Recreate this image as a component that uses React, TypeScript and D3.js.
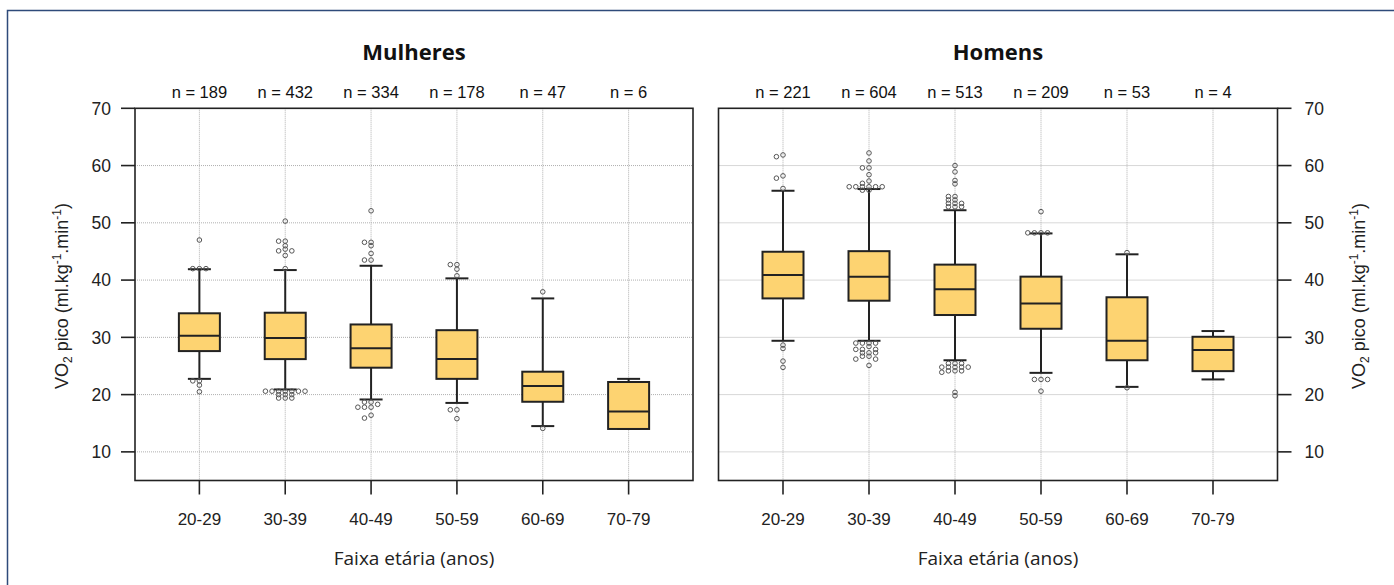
import React from "react";
import * as d3 from "d3";

// ---------- DATA ----------
const categories = ["20-29", "30-39", "40-49", "50-59", "60-69", "70-79"];
const yTicks = [10, 20, 30, 40, 50, 60, 70];

const womenN = [189, 432, 334, 178, 47, 6];
const womenQ1 = [27.6, 26.2, 24.7, 22.75, 18.75, 14.0];
const womenMedian = [30.3, 29.9, 28.1, 26.2, 21.5, 17.05];
const womenQ3 = [34.2, 34.3, 32.25, 31.25, 24.0, 22.2];
const womenLow = [22.75, 20.9, 19.15, 18.55, 14.5, 14.0];
const womenHigh = [41.9, 41.75, 42.5, 40.3, 36.8, 22.75];
const womenOutliers = [
  [47.0, 42.0, 42.0, 42.0, 22.4, 22.4, 21.65, 20.5],
  [50.3, 46.8, 46.8, 46.0, 45.4, 45.1, 45.1, 44.3, 42.0,
   20.6, 20.6, 20.6, 20.6, 20.6, 20.6, 20.6, 20.0, 20.0, 20.0, 19.4, 19.4, 19.4],
  [52.1, 46.6, 46.6, 46.0, 44.65, 43.5, 43.5,
   18.7, 18.7, 18.3, 17.8, 17.8, 17.8, 16.4, 15.9],
  [42.7, 42.7, 41.9, 40.75, 17.35, 17.35, 15.8],
  [37.95, 14.1],
  [],
];

const menN = [221, 604, 513, 209, 53, 4];
const menQ1 = [36.8, 36.4, 33.9, 31.5, 26.0, 24.1];
const menMedian = [40.9, 40.6, 38.4, 35.9, 29.4, 27.8];
const menQ3 = [44.95, 45.05, 42.7, 40.6, 37.0, 30.1];
const menLow = [29.4, 29.4, 26.0, 23.8, 21.35, 22.65];
const menHigh = [55.6, 55.9, 52.2, 48.15, 44.5, 31.1];
const menOutliers = [
  [61.85, 61.55, 58.2, 57.8, 56.0, 28.65, 28.05, 25.85, 24.75],
  [62.2, 60.8, 59.6, 59.6, 58.4, 57.3, 56.9, 56.3, 56.3, 56.3, 56.3, 56.3, 56.3, 55.7, 55.7,
   29.0, 29.0, 29.0, 29.0, 28.4, 27.9, 27.9, 27.9, 27.3, 27.3, 27.3, 26.7, 26.7, 26.2, 26.2, 25.1],
  [60.0, 58.9, 57.4, 56.8, 54.6, 54.6, 54.0, 54.0, 53.4, 53.4, 53.4, 52.8, 52.8, 52.8,
   25.45, 25.45, 25.45, 24.8, 24.8, 24.8, 24.8, 24.8, 24.15, 24.15, 24.15, 23.9, 20.4, 19.8],
  [51.95, 48.25, 48.25, 48.25, 48.25, 22.65, 22.65, 22.65, 20.6],
  [44.8, 21.2],
  [],
];

// ---------- LAYOUT ----------
const W = 1394;
const H = 585;
const yTop = 108.3;
const yBottom = 480.5;
const boxW = 41;
const capW = 23;
const outR = 2.3;
const FILL = "#FDD371";
const INK = "#222";
const GRID = "#b0b0b0";

const y = d3.scaleLinear().domain([5, 70]).range([yBottom, yTop]);

// beeswarm-style horizontal dodge of outliers that share (almost) the same value
function dodge(values: number[], cx: number) {
  const placed: { x: number; y: number }[] = [];
  const sorted = [...values].sort((a, b) => b - a);
  const stepX = 6.6;
  const rowH = 3.0;
  for (const v of sorted) {
    const py = y(v);
    let chosen = cx;
    for (let k = 0; k < 40; k++) {
      const off = k === 0 ? 0 : (k % 2 === 1 ? -1 : 1) * Math.ceil(k / 2) * stepX;
      const px = cx + off;
      const ok = placed.every((p) => Math.abs(p.y - py) >= rowH || Math.abs(p.x - px) >= stepX - 0.1);
      if (ok) { chosen = px; break; }
    }
    placed.push({ x: chosen, y: py });
  }
  return placed;
}

type PanelProps = {
  x0: number; x1: number; title: string; side: "left" | "right";
  n: number[]; q1: number[]; med: number[]; q3: number[]; lo: number[]; hi: number[]; out: number[][];
};

function YTitle({ x, yc }: { x: number; yc: number }) {
  return (
    <text
      transform={`translate(${x},${yc}) rotate(-90)`}
      textAnchor="middle"
      fontFamily="Liberation Sans, Arial, sans-serif"
      fontSize={18}
      fill="#222"
    >
      VO<tspan fontSize={12} dy={4}>2</tspan>
      <tspan dy={-4}> pico (ml.kg</tspan>
      <tspan fontSize={12} dy={-7}>-1</tspan>
      <tspan dy={7}>.min</tspan>
      <tspan fontSize={12} dy={-7}>-1</tspan>
      <tspan dy={7}>)</tspan>
    </text>
  );
}

function Panel(p: PanelProps) {
  const x = d3.scalePoint<string>().domain(categories).range([p.x0, p.x1]).padding(0.75);
  const axisX = p.side === "left" ? p.x0 : p.x1;
  const tickDir = p.side === "left" ? -1 : 1;
  const cxMid = (p.x0 + p.x1) / 2;
  const font = "Liberation Sans, Arial, sans-serif";
  return (
    <g>
      {/* grid */}
      {yTicks.filter((t) => t < 70).map((t) => (
        <line key={"gy" + t} x1={p.x0} x2={p.x1} y1={y(t)} y2={y(t)} stroke={GRID} strokeWidth={1} strokeDasharray="1,1" />
      ))}
      {categories.map((c) => (
        <line key={"gx" + c} x1={x(c)!} x2={x(c)!} y1={yTop} y2={yBottom} stroke={GRID} strokeWidth={1} strokeDasharray="1,1" />
      ))}
      {/* boxes */}
      {categories.map((c, i) => {
        const cx = x(c)!;
        const pts = dodge(p.out[i], cx);
        return (
          <g key={"b" + c}>
            <line x1={cx} x2={cx} y1={y(p.lo[i])} y2={y(p.hi[i])} stroke={INK} strokeWidth={2} />
            <line x1={cx - capW / 2} x2={cx + capW / 2} y1={y(p.hi[i])} y2={y(p.hi[i])} stroke={INK} strokeWidth={2} />
            <line x1={cx - capW / 2} x2={cx + capW / 2} y1={y(p.lo[i])} y2={y(p.lo[i])} stroke={INK} strokeWidth={2} />
            <rect x={cx - boxW / 2} y={y(p.q3[i])} width={boxW} height={y(p.q1[i]) - y(p.q3[i])} fill={FILL} stroke={INK} strokeWidth={2} />
            <line x1={cx - boxW / 2} x2={cx + boxW / 2} y1={y(p.med[i])} y2={y(p.med[i])} stroke={INK} strokeWidth={2} />
            {pts.map((pt, j) => (
              <circle key={j} cx={pt.x} cy={pt.y} r={outR} fill="none" stroke="#555" strokeWidth={1} />
            ))}
          </g>
        );
      })}
      {/* frame */}
      <rect x={p.x0} y={yTop} width={p.x1 - p.x0} height={yBottom - yTop} fill="none" stroke={INK} strokeWidth={1.6} />
      {/* y ticks */}
      {yTicks.map((t) => (
        <g key={"yt" + t}>
          <line x1={axisX} x2={axisX + tickDir * 14} y1={y(t)} y2={y(t)} stroke={INK} strokeWidth={1.6} />
          <text
            x={p.side === "left" ? axisX - 24 : axisX + 27}
            y={y(t)}
            dy="0.36em"
            textAnchor={p.side === "left" ? "end" : "start"}
            fontFamily={font}
            fontSize={17.5}
            fill="#222"
          >
            {t}
          </text>
        </g>
      ))}
      {/* x ticks */}
      {categories.map((c) => (
        <g key={"xt" + c}>
          <line x1={x(c)!} x2={x(c)!} y1={yBottom} y2={yBottom + 14} stroke={INK} strokeWidth={1.6} />
          <text x={x(c)!} y={525} textAnchor="middle" fontFamily={font} fontSize={17} fill="#222">{c}</text>
        </g>
      ))}
      {/* n labels */}
      {categories.map((c, i) => (
        <text key={"n" + c} x={x(c)!} y={98} textAnchor="middle" fontFamily={font} fontSize={16.5} fill="#111">
          {`n = ${p.n[i]}`}
        </text>
      ))}
      <text x={cxMid} y={60} textAnchor="middle" fontFamily="Open Sans, sans-serif" fontWeight="bold" fontSize={22} fill="#111">
        {p.title}
      </text>
      <text x={cxMid} y={565} textAnchor="middle" fontFamily="Open Sans, sans-serif" fontSize={19} fill="#222">
        Faixa etária (anos)
      </text>
    </g>
  );
}

export default function App() {
  return (
    <svg width={W} height={H} style={{ position: "absolute", left: 0, top: 0, background: "#fff" }}>
      <rect x={0} y={0} width={W} height={H} fill="#fff" />
      <rect x={7.5} y={10.5} width={1420} height={620} fill="none" stroke="#2E4A7A" strokeWidth={1.5} />
      <Panel x0={135} x1={693} title="Mulheres" side="left"
        n={womenN} q1={womenQ1} med={womenMedian} q3={womenQ3} lo={womenLow} hi={womenHigh} out={womenOutliers} />
      <Panel x0={718.5} x1={1277.5} title="Homens" side="right"
        n={menN} q1={menQ1} med={menMedian} q3={menQ3} lo={menLow} hi={menHigh} out={menOutliers} />
      <YTitle x={68} yc={296} />
      <YTitle x={1365} yc={296} />
    </svg>
  );
}
